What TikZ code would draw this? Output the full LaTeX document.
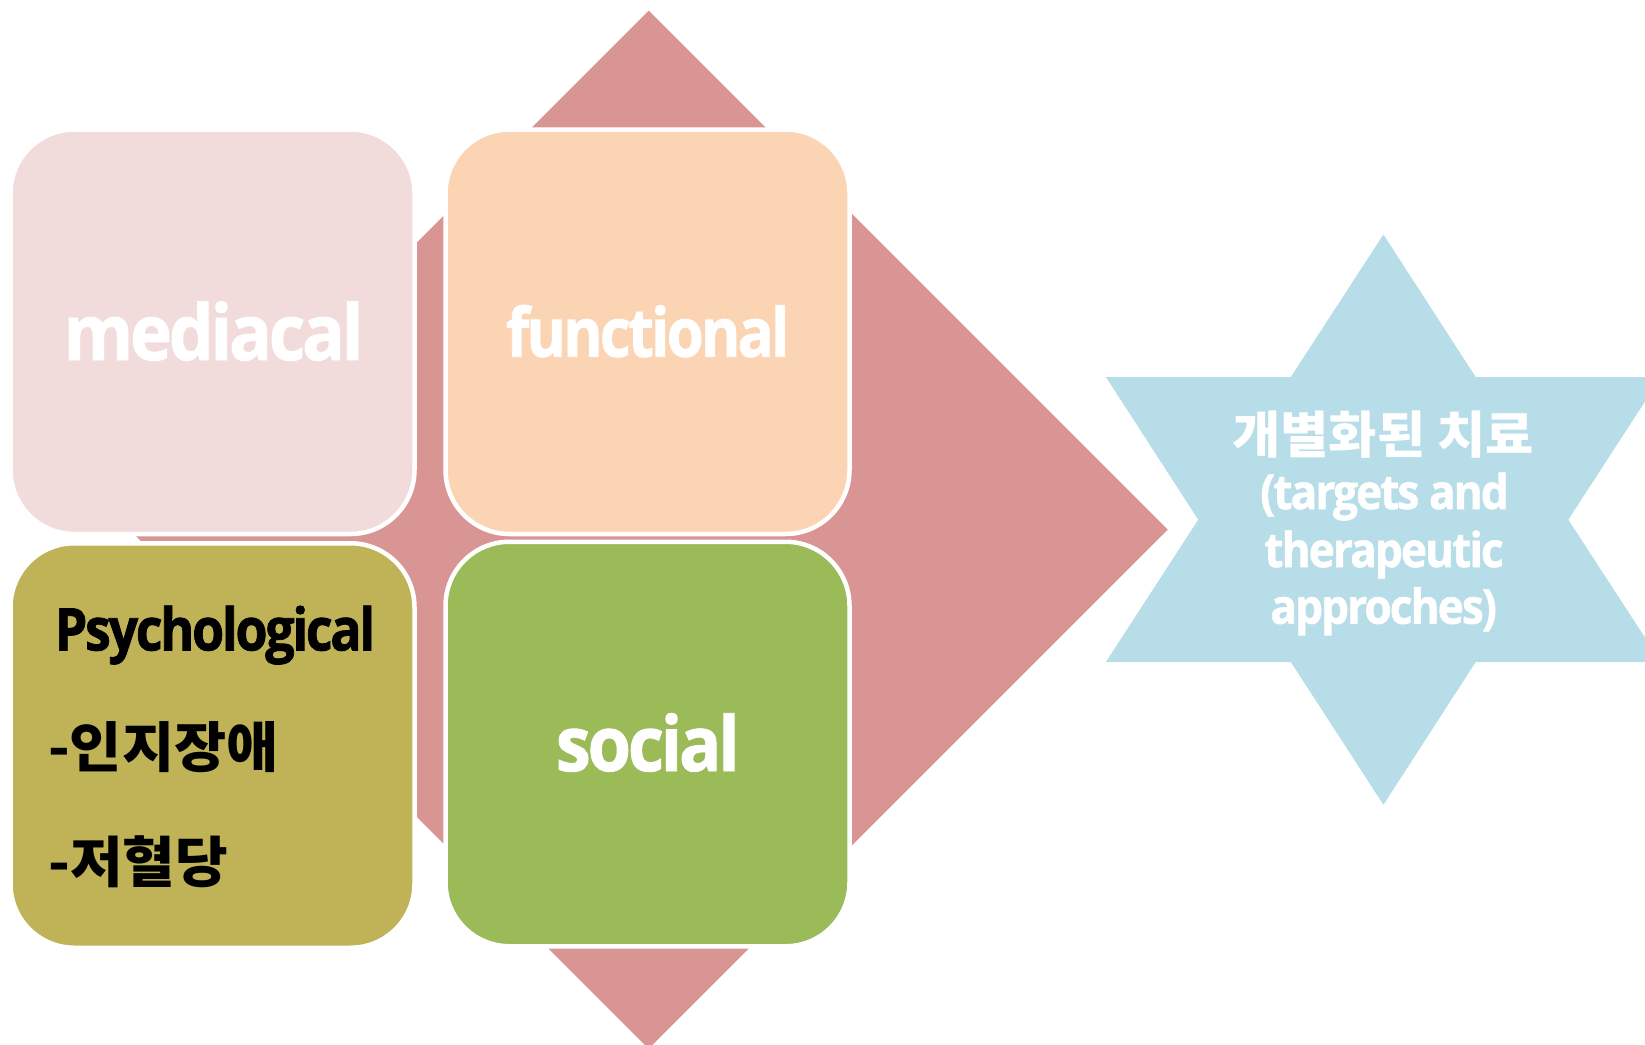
\documentclass[tikz,border=0pt]{standalone}
\usepackage{fontspec}
\newfontfamily\latfont{Open Sans}[FakeStretch=0.92, LetterSpace=-4, FakeBold=1.2]
\newfontfamily\latnarrow{Open Sans}[FakeStretch=0.885, LetterSpace=-4, FakeBold=1.2]
\newfontfamily\krfont{Noto Sans CJK KR}[FakeStretch=1.04]
\definecolor{diamondpink}{HTML}{D99594}
\definecolor{starblue}{HTML}{B7DDE8}
\definecolor{medfill}{HTML}{F2DCDB}
\definecolor{funcfill}{HTML}{FBD4B4}
\definecolor{psyfill}{HTML}{BFB257}
\definecolor{socfill}{HTML}{9BBB59}
\begin{document}
\begin{tikzpicture}[x=1pt,y=-1pt,
  quad/.style={draw=white, line width=4.5pt, rounded corners=64pt,
    minimum width=404pt, minimum height=404.5pt, inner sep=0pt},
  label/.style={inner sep=0pt, anchor=base, text=white},
  lat/.style={font=\latfont\bfseries\fontsize{#1}{#1}\selectfont},
  latn/.style={font=\latnarrow\bfseries\fontsize{#1}{#1}\selectfont},
  kr/.style={font=\krfont\bfseries\fontsize{#1}{#1}\selectfont}]
\useasboundingbox (0,0) rectangle (1645,1044);
\clip (0,0) rectangle (1645,1044);
% background diamond arrow
\fill[diamondpink] (648.7,10.7) -- (1167.7,529.7) -- (648.7,1048.7) -- (129.7,529.7) -- cycle;
% six-pointed star
\fill[starblue] (1383.4,234.5) -- (1475.7,377) -- (1660.9,377) -- (1568.3,519.7)
  -- (1660.9,662) -- (1475.7,662) -- (1383.4,804.8) -- (1290.8,662)
  -- (1105.9,662) -- (1198.2,519.7) -- (1105.9,377) -- (1290.8,377) -- cycle;
% the four quadrant boxes
\node[quad, fill=medfill]  (med)  at (212.5,331.75) {};
\node[quad, fill=funcfill] (func) at (647.5,331.75) {};
\node[quad, fill=psyfill]  (psy)  at (212.5,745.5) {};
\node[quad, fill=socfill]  (soc)  at (647.5,744) {};
% box labels
\node[label, lat=77] (medtxt) at (213.5,360) {mediacal};
\node[label, latn=67.6] (functxt) at (647.8,356.7) {functional};
\node[label, lat=76] (soctxt) at (647.8,771) {social};
\node[label, latn=58.8, text=black, anchor=base west] (psytxt) at (54.5,650.4) {Psychological};
\node[label, kr=54.5, text=black, anchor=base west] (psy1) at (48,767) {-인지장애};
\node[label, kr=55, text=black, anchor=base west] (psy2) at (48,882) {-저혈당};
% star labels
\node[label, kr=50.5] (st1) at (1383,453) {개별화된 치료};
\node[label, lat=48] (st2) at (1384.5,509) {(targets and};
\node[label, lat=48] (st3) at (1384,567) {therapeutic};
\node[label, lat=48] (st4) at (1383.6,623.7) {approches)};
\end{tikzpicture}
\end{document}
